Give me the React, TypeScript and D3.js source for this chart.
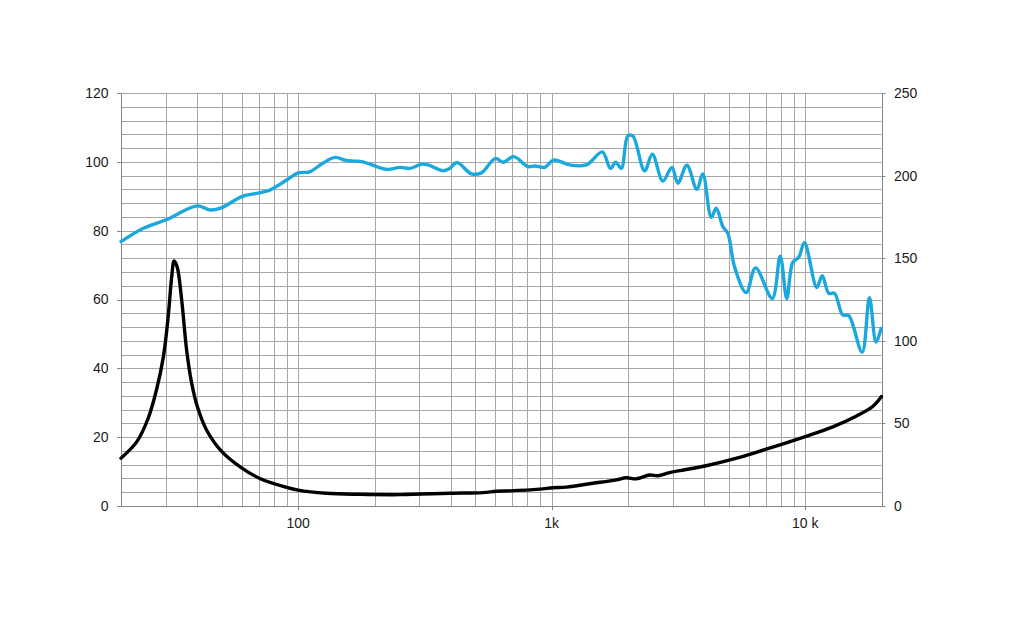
import React from "react";
import * as d3 from "d3";

const splFreq = [20, 24.5, 30, 40, 44.9, 50, 60, 70, 77.3, 90, 100, 111, 125, 140, 153, 165, 180, 223, 252, 276, 306, 325, 373, 396, 423, 482, 528, 600, 643, 708, 806, 857, 938, 1018, 1178, 1370, 1584, 1704, 1788, 1882, 1998, 2090, 2326, 2494, 2746, 2978, 3146, 3414, 3738, 3946, 4260, 4457, 4733, 4953, 5264, 5855, 6369, 7412, 7970, 8461, 8933, 9432, 9934, 11110, 11670, 12390, 13050, 14070, 14850, 16770, 17920, 19040, 19930];
const splValue = [76.8, 80.7, 83.1, 87.2, 86.0, 86.7, 89.9, 91.0, 91.8, 94.7, 96.8, 97.1, 99.6, 101.3, 100.5, 100.2, 100.0, 97.8, 98.4, 98.1, 99.3, 99.1, 97.4, 98.1, 99.8, 96.5, 96.8, 101.0, 99.9, 101.5, 98.6, 98.8, 98.4, 100.5, 99.1, 99.1, 102.9, 98.1, 99.9, 98.1, 107.6, 107.5, 97.4, 102.2, 94.4, 98.4, 93.8, 99.0, 92.0, 96.5, 83.9, 86.5, 81.2, 79.2, 69.5, 62.0, 69.2, 60.3, 72.6, 60.3, 70.8, 72.3, 76.5, 63.5, 66.9, 61.8, 61.8, 55.5, 55.3, 44.7, 60.5, 47.6, 51.6];

const impFreq = [20, 23.1, 25.6, 27.6, 29.4, 30.7, 31.7, 32.4, 33.3, 34.7, 36.3, 38.0, 40, 43.5, 50, 60, 70.6, 90, 100, 129, 175, 252, 396, 534, 607, 683, 897, 1010, 1142, 1454, 1798, 1970, 2157, 2433, 2624, 2917, 3396, 4070, 5508, 7017, 9934, 12850, 15880, 18460, 20000];
const impValue = [13.9, 18.7, 25.5, 33.7, 43.4, 55.0, 66.6, 71.2, 69.5, 59.9, 45.3, 35.7, 28.9, 22.1, 15.8, 11.0, 8.0, 5.4, 4.6, 3.7, 3.4, 3.3, 3.7, 3.9, 4.3, 4.4, 4.9, 5.3, 5.5, 6.6, 7.6, 8.2, 7.9, 9.0, 8.8, 9.7, 10.6, 11.7, 14.1, 16.5, 20.1, 23.0, 26.1, 28.9, 31.8];

const leftTicks = [0, 20, 40, 60, 80, 100, 120];
const rightTicks = [0, 50, 100, 150, 200, 250];
const xLabels = [
  { f: 100, label: "100" },
  { f: 1000, label: "1k" },
  { f: 10000, label: "10 k" },
];

export default function App() {
  const left = 121, right = 881.5, top = 93, bottom = 506;
  const x = d3.scaleLog().domain([20, 20000]).range([left, right]);
  const yL = d3.scaleLinear().domain([0, 120]).range([bottom, top]);
  const yR = d3.scaleLinear().domain([0, 250]).range([bottom, top]);

  const vGrid: number[] = [];
  for (let dec = 10; dec <= 10000; dec *= 10) {
    for (let m = 1; m <= 9; m++) {
      const f = dec * m;
      if (f >= 20 && f <= 20000) vGrid.push(f);
    }
  }
  vGrid.push(20000);
  const hGrid = d3.range(0, 121, 4);

  const line = d3
    .line<[number, number]>()
    .x((d) => x(d[0]))
    .y((d) => yL(d[1]))
    .curve(d3.curveCatmullRom.alpha(0.5));

  const spl = splFreq.map((f, i) => [f, splValue[i]] as [number, number]);
  const imp = impFreq.map((f, i) => [f, impValue[i]] as [number, number]);

  const font = "'Liberation Sans', Arial, sans-serif";
  const gridColor = "#a6a6a6";
  const axisColor = "#868686";

  return (
    <svg
      width={1009}
      height={619}
      style={{ position: "absolute", left: 0, top: 0, background: "#fff" }}
    >
      <g>
        {hGrid.map((v) => (
          <line key={"h" + v} x1={left} x2={right} y1={Math.round(yL(v)) + 0.5} y2={Math.round(yL(v)) + 0.5} stroke={gridColor} strokeWidth={1} />
        ))}
        {vGrid.map((f) => (
          <line key={"v" + f} x1={Math.round(x(f)) + 0.5} x2={Math.round(x(f)) + 0.5} y1={top} y2={bottom} stroke={gridColor} strokeWidth={1} />
        ))}
      </g>
      <line x1={left + 0.5} x2={left + 0.5} y1={top} y2={bottom + 0.5} stroke={axisColor} />
      <line x1={Math.round(right) + 0.5} x2={Math.round(right) + 0.5} y1={top} y2={bottom + 0.5} stroke={axisColor} />
      <line x1={left} x2={right} y1={bottom + 0.5} y2={bottom + 0.5} stroke={axisColor} />
      {leftTicks.map((v) => (
        <g key={"lt" + v}>
          <line x1={left - 4} x2={left} y1={Math.round(yL(v)) + 0.5} y2={Math.round(yL(v)) + 0.5} stroke={axisColor} />
          <text x={108.5} y={yL(v)} dy="0.35em" textAnchor="end" fontFamily={font} fontSize={14} fill="#1a1a1a">{v}</text>
        </g>
      ))}
      {rightTicks.map((v) => (
        <g key={"rt" + v}>
          <line x1={right} x2={right + 4} y1={Math.round(yR(v)) + 0.5} y2={Math.round(yR(v)) + 0.5} stroke={axisColor} />
          <text x={894} y={yR(v)} dy="0.35em" textAnchor="start" fontFamily={font} fontSize={14} fill="#1a1a1a">{v}</text>
        </g>
      ))}
      {xLabels.map((d) => (
        <g key={"xl" + d.f}>
          <line x1={Math.round(x(d.f)) + 0.5} x2={Math.round(x(d.f)) + 0.5} y1={bottom} y2={bottom + 4} stroke={axisColor} />
          <text x={x(d.f)} y={528} textAnchor="middle" fontFamily={font} fontSize={14} fill="#1a1a1a">{d.label}</text>
        </g>
      ))}
      <path d={line(imp) || ""} fill="none" stroke="#000" strokeWidth={3.4} strokeLinejoin="round" strokeLinecap="round" />
      <path d={line(spl) || ""} fill="none" stroke="#1ba8dd" strokeWidth={3.4} strokeLinejoin="round" strokeLinecap="round" />
    </svg>
  );
}
